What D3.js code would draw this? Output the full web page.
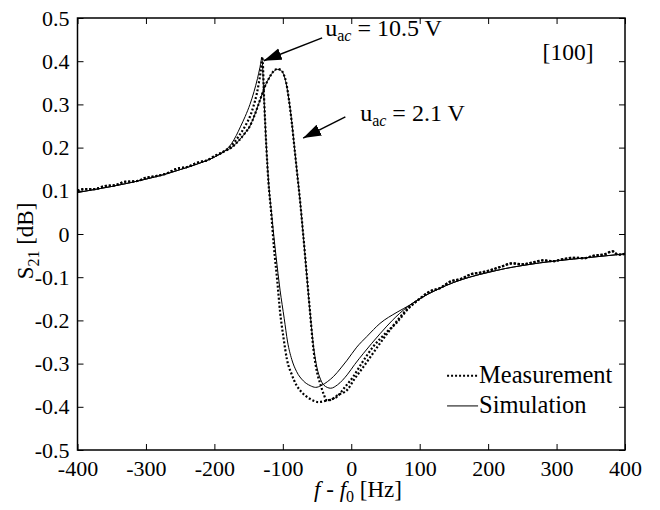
<!DOCTYPE html>
<html>
<head>
<meta charset="utf-8">
<script src="https://cdn.jsdelivr.net/npm/d3@7"></script>
<style>
  body { margin: 0; background: #fff; }
  svg text { font-family: "Liberation Serif", "Times New Roman", serif; fill: #000; }
</style>
</head>
<body>
<svg id="chart" width="660" height="510"></svg>
<script>
// tick values
const xTicks = [-400, -300, -200, -100, 0, 100, 200, 300, 400];
const yTicks = [-0.5, -0.4, -0.3, -0.2, -0.1, 0, 0.1, 0.2, 0.3, 0.4, 0.5];

// simulation: shared tails
const simLeft = [[-400,0.096],[-375,0.103],[-350,0.110],[-325,0.118],[-300,0.127],[-275,0.137],
  [-250,0.149],[-225,0.162],[-200,0.178],[-185,0.192]];
const simRight = [[100,-0.150],[125,-0.129],[150,-0.112],[175,-0.099],[200,-0.089],[225,-0.080],
  [250,-0.073],[275,-0.067],[300,-0.062],[325,-0.058],[350,-0.054],[375,-0.050],[400,-0.046]];

// measurement: shared tails
const measLeft = [[-400,0.100],[-390,0.104],[-375,0.104],[-360,0.111],[-345,0.113],[-330,0.121],
  [-315,0.122],[-300,0.130],[-285,0.134],[-270,0.140],[-255,0.151],[-240,0.155],[-225,0.165],
  [-210,0.171],[-200,0.180],[-185,0.192]];
const measRight = [[100,-0.150],[115,-0.133],[130,-0.125],[145,-0.110],[160,-0.104],[175,-0.093],
  [190,-0.089],[205,-0.083],[220,-0.075],[235,-0.068],[250,-0.070],[265,-0.066],[280,-0.061],
  [295,-0.063],[310,-0.058],[325,-0.055],[340,-0.056],[355,-0.050],[370,-0.047],[382,-0.040],
  [390,-0.048],[400,-0.046]];

// u_ac = 10.5 V
const simHigh = [[-175,0.209],[-168,0.228],[-162,0.248],[-155,0.272],[-148,0.300],[-142,0.330],
  [-137,0.360],[-133.5,0.385],[-130.5,0.407],
  [-128,0.330],[-125,0.230],[-121,0.125],[-116,0.040],[-110,-0.050],[-104,-0.130],[-98,-0.195],
  [-93,-0.250],[-87,-0.290],[-80,-0.318],[-70,-0.340],[-60,-0.351],[-52,-0.355],[-44,-0.351],
  [-35,-0.342],[-26,-0.330],[-15,-0.310],[-6,-0.292],[8,-0.262],[23,-0.237],[42,-0.207],
  [67,-0.181],[85,-0.165]];
const measHigh = [[-175,0.205],[-165,0.225],[-155,0.250],[-148,0.272],[-143,0.295],[-138,0.325],
  [-135,0.350],[-132.5,0.375],[-131,0.395],[-130,0.410],
  [-127,0.300],[-124,0.200],[-121,0.120],[-117,0.050],[-113,-0.030],[-108,-0.110],
  [-104,-0.180],[-99,-0.240],[-94,-0.290],[-87,-0.325],[-80,-0.350],[-72,-0.367],[-62,-0.380],
  [-55,-0.386],[-48,-0.389],[-40,-0.387],[-30,-0.383],[-21,-0.377],[-10,-0.356],[3,-0.330],
  [15,-0.300],[32,-0.261],[50,-0.230],[67,-0.204],[85,-0.170]];

// u_ac = 2.1 V
const simLow = [[-175,0.200],[-165,0.215],[-155,0.234],[-148,0.250],[-142,0.272],[-136,0.298],
  [-130,0.325],[-126,0.342],[-120,0.361],
  [-114,0.375],[-108,0.381],[-103,0.379],[-99,0.370],[-95,0.348],[-91,0.310],[-87,0.260],
  [-83,0.200],[-79,0.140],[-75,0.080],[-70,-0.005],[-65,-0.095],[-60,-0.185],[-55,-0.262],
  [-50,-0.310],[-45,-0.336],[-40,-0.350],[-30,-0.357],[-20,-0.349],[-6,-0.326],[5,-0.302],
  [18,-0.276],[30,-0.253],[42,-0.231],[60,-0.200],[81,-0.170]];
const measLow = [[-175,0.200],[-165,0.215],[-155,0.234],[-148,0.250],[-142,0.272],[-136,0.298],
  [-130,0.325],[-126,0.342],[-120,0.361],
  [-114,0.376],[-108,0.382],[-103,0.380],[-99,0.371],[-95,0.350],[-91,0.310],[-87,0.260],
  [-83,0.200],[-79,0.140],[-75,0.080],[-70,-0.005],[-65,-0.095],[-60,-0.185],[-55,-0.270],
  [-50,-0.320],[-45,-0.348],[-40,-0.372],[-36,-0.385],[-30,-0.384],[-20,-0.373],[-6,-0.361],
  [5,-0.335],[18,-0.307],[30,-0.280],[42,-0.253],[60,-0.215],[81,-0.175]];

const svg = d3.select("svg#chart");
const width = +svg.attr("width");
const height = +svg.attr("height");
const margin = {top: 18, right: 35, bottom: 60, left: 77.5};
const chartWidth = width - margin.left - margin.right;
const chartHeight = height - margin.top - margin.bottom;

const x = d3.scaleLinear().domain([-400, 400]).range([0, chartWidth]);
const y = d3.scaleLinear().domain([-0.5, 0.5]).range([chartHeight, 0]);

const g = svg.append("g").attr("transform", `translate(${margin.left},${margin.top})`);

const fmt = d => d === 0 ? "0" : String(+d.toFixed(1));

// axes, ticks pointing inward
const bottomAxis = d3.axisBottom(x).tickValues(xTicks).tickSize(-6).tickPadding(10).tickFormat(fmt);
const leftAxis = d3.axisLeft(y).tickValues(yTicks).tickSize(-6).tickPadding(8).tickFormat(fmt);
const topAxis = d3.axisTop(x).tickValues(xTicks).tickSize(-6).tickFormat("");
const rightAxis = d3.axisRight(y).tickValues(yTicks).tickSize(-6).tickFormat("");

g.append("g").attr("transform", `translate(0,${chartHeight})`).call(bottomAxis);
g.append("g").call(leftAxis);
g.append("g").call(topAxis);
g.append("g").attr("transform", `translate(${chartWidth},0)`).call(rightAxis);
g.selectAll(".domain").remove();
g.selectAll(".tick line").attr("stroke", "#000").attr("stroke-width", 1);
g.selectAll(".tick text").attr("font-size", 22).attr("fill", "#000");

g.append("rect")
  .attr("width", chartWidth).attr("height", chartHeight)
  .attr("fill", "none").attr("stroke", "#000").attr("stroke-width", 1.5);

// curves
const line = d3.line().x(d => x(d[0])).y(d => y(d[1])).curve(d3.curveMonotoneX);

const series = [
  {pts: simLeft.concat(simHigh, simRight), dotted: false},
  {pts: simLeft.concat(simLow, simRight), dotted: false},
  {pts: measLeft.concat(measHigh, measRight), dotted: true},
  {pts: measLeft.concat(measLow, measRight), dotted: true}
];

g.selectAll("path.curve").data(series).join("path")
  .attr("class", "curve")
  .attr("d", d => line(d.pts))
  .attr("fill", "none")
  .attr("stroke", "#000")
  .attr("stroke-width", d => d.dotted ? 2.2 : 1)
  .attr("stroke-dasharray", d => d.dotted ? "2,2" : null);

// arrow marker
svg.append("defs").append("marker")
  .attr("id", "arrow")
  .attr("markerUnits", "userSpaceOnUse")
  .attr("markerWidth", 20).attr("markerHeight", 14)
  .attr("refX", 18).attr("refY", 6)
  .attr("orient", "auto")
  .append("path").attr("d", "M0,0 L18,6 L0,12 Z").attr("fill", "#000");

const arrows = [
  {from: [-42.5, 0.454], to: [-128, 0.401]},
  {from: [-8.6, 0.271], to: [-70.3, 0.222]}
];
g.selectAll("line.arrow").data(arrows).join("line")
  .attr("class", "arrow")
  .attr("x1", d => x(d.from[0])).attr("y1", d => y(d.from[1]))
  .attr("x2", d => x(d.to[0])).attr("y2", d => y(d.to[1]))
  .attr("stroke", "#000").attr("stroke-width", 1.5)
  .attr("marker-end", "url(#arrow)");

function uacLabel(xv, yv, value) {
  const t = g.append("text").attr("x", x(xv)).attr("y", y(yv)).attr("font-size", 24);
  t.append("tspan").text("u");
  t.append("tspan").attr("font-size", 16).attr("dy", 5).text("a");
  t.append("tspan").attr("font-size", 16).attr("font-style", "italic").text("c");
  t.append("tspan").attr("dy", -5).text(" = " + value);
}
uacLabel(-38, 0.458, "10.5 V");
uacLabel(13, 0.262, "2.1 V");

g.append("text")
  .attr("x", x(354)).attr("y", y(0.403))
  .attr("text-anchor", "end").attr("font-size", 23.5)
  .text("[100]");

// legend
const legendItems = [
  {label: "Measurement", dotted: true, yv: -0.328},
  {label: "Simulation", dotted: false, yv: -0.398}
];
const leg = g.selectAll("g.legend").data(legendItems).join("g").attr("class", "legend")
  .attr("transform", d => `translate(${x(140)},${y(d.yv)})`);
leg.append("line")
  .attr("x1", 0).attr("x2", 31)
  .attr("stroke", "#000")
  .attr("stroke-width", d => d.dotted ? 2 : 1)
  .attr("stroke-dasharray", d => d.dotted ? "2,2" : null);
leg.append("text")
  .attr("x", 32).attr("y", 7)
  .attr("font-size", 24.5)
  .text(d => d.label);

// axis titles
const yl = svg.append("text")
  .attr("transform", "translate(33,241) rotate(-90)")
  .attr("text-anchor", "middle")
  .attr("font-size", 23);
yl.append("tspan").text("S");
yl.append("tspan").attr("font-size", 16).attr("dy", 6).text("21");
yl.append("tspan").attr("dy", -6).text(" [dB]");

const xl = svg.append("text")
  .attr("x", 358).attr("y", 497)
  .attr("text-anchor", "middle")
  .attr("font-size", 23);
xl.append("tspan").attr("font-style", "italic").text("f");
xl.append("tspan").text(" - ");
xl.append("tspan").attr("font-style", "italic").text("f");
xl.append("tspan").attr("font-size", 16).attr("dy", 5).text("0");
xl.append("tspan").attr("dy", -5).text(" [Hz]");
</script>
</body>
</html>
